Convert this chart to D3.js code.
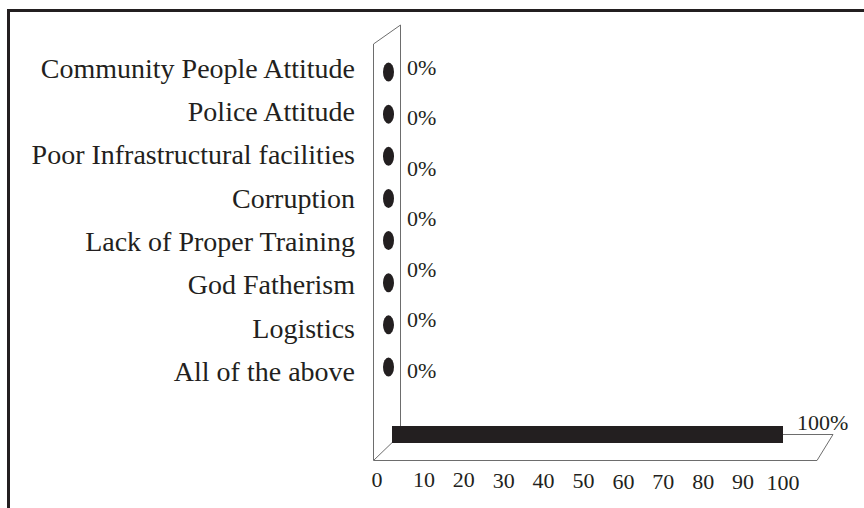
<!DOCTYPE html>
<html>
<head>
<meta charset="utf-8">
<script src="https://cdn.jsdelivr.net/npm/d3@7"></script>
<style>
  html, body { margin: 0; padding: 0; background: #fff; }
  svg { display: block; }
  text { font-family: "Liberation Serif", "Times New Roman", serif; fill: #231f20; }
</style>
</head>
<body>
<svg id="chart" width="864" height="508"></svg>
<script>
// ---- data ----
const categories = [
  "Community People Attitude",
  "Police Attitude",
  "Poor Infrastructural facilities",
  "Corruption",
  "Lack of Proper Training",
  "God Fatherism",
  "Logistics",
  "All of the above"
];
const values = [0, 0, 0, 0, 0, 0, 0, 0];
const valueLabels = ["0%", "0%", "0%", "0%", "0%", "0%", "0%"];
const barCategory = [""];
const barValues = [100];
const barLabels = ["100%"];
const ticks = [0, 10, 20, 30, 40, 50, 60, 70, 80, 90, 100];

// ---- layout ----
const svg = d3.select("#chart");
const ink = "#231f20";
const wall = "#6d6d6d";

// x scale (value axis)
const x = d3.scaleLinear().domain([0, 100]).range([384, 783]);

// category scales
const yLabel = d3.scalePoint().domain(categories).range([68, 371]);
const yDot = d3.scalePoint().domain(categories).range([72, 367]);
const yVal = d3.scalePoint().domain(d3.range(valueLabels.length)).range([67, 370]);

// border (top and left only)
svg.append("path")
  .attr("d", "M8.5,508 L8.5,10.5 L864,10.5")
  .attr("fill", "none").attr("stroke", ink).attr("stroke-width", 3);

// back wall
const g = svg.append("g").attr("fill", "none").attr("stroke", wall).attr("stroke-width", 1);
g.append("path").attr("d", "M373.5,460 L373.5,44 L400.5,25 L400.5,434");
// floor
g.append("path").attr("d", "M373.5,460.5 L817,460.5 L833,434.5 L400.5,434.5 Z");

// category labels
svg.append("g").selectAll("text").data(categories).join("text")
  .attr("x", 355).attr("y", d => yLabel(d)).attr("dy", "0.35em")
  .attr("text-anchor", "end").attr("font-size", 28)
  .text(d => d);

// zero-value markers
svg.append("g").selectAll("ellipse").data(values).join("ellipse")
  .attr("cx", 388.5).attr("cy", (d, i) => yDot(categories[i]))
  .attr("rx", 5.5).attr("ry", 9.5)
  .attr("fill", ink);

// value labels
svg.append("g").selectAll("text").data(valueLabels).join("text")
  .attr("x", 407).attr("y", (d, i) => yVal(i)).attr("dy", "0.35em")
  .attr("font-size", 22)
  .text(d => d);

// the 100% bar
const yBar = d3.scaleBand().domain(barCategory).range([426, 443]);
svg.append("g").selectAll("rect").data(barValues).join("rect")
  .attr("x", x(0) + 8).attr("y", yBar(""))
  .attr("width", d => x(d) - x(0) - 8).attr("height", yBar.bandwidth())
  .attr("fill", ink);
svg.append("g").selectAll("text").data(barLabels).join("text")
  .attr("x", (d, i) => x(barValues[i]) + 14).attr("y", 422).attr("dy", "0.35em")
  .attr("font-size", 22)
  .text(d => d);

// axis tick labels (slightly sloped, like the original 3D axis)
svg.append("g").selectAll("text").data(ticks).join("text")
  .attr("x", d => d === 0 ? x(d) - 7 : x(d))
  .attr("y", (d, i) => 479 + i * 0.3).attr("dy", "0.35em")
  .attr("text-anchor", "middle").attr("font-size", 22)
  .text(d => d);
</script>
</body>
</html>
